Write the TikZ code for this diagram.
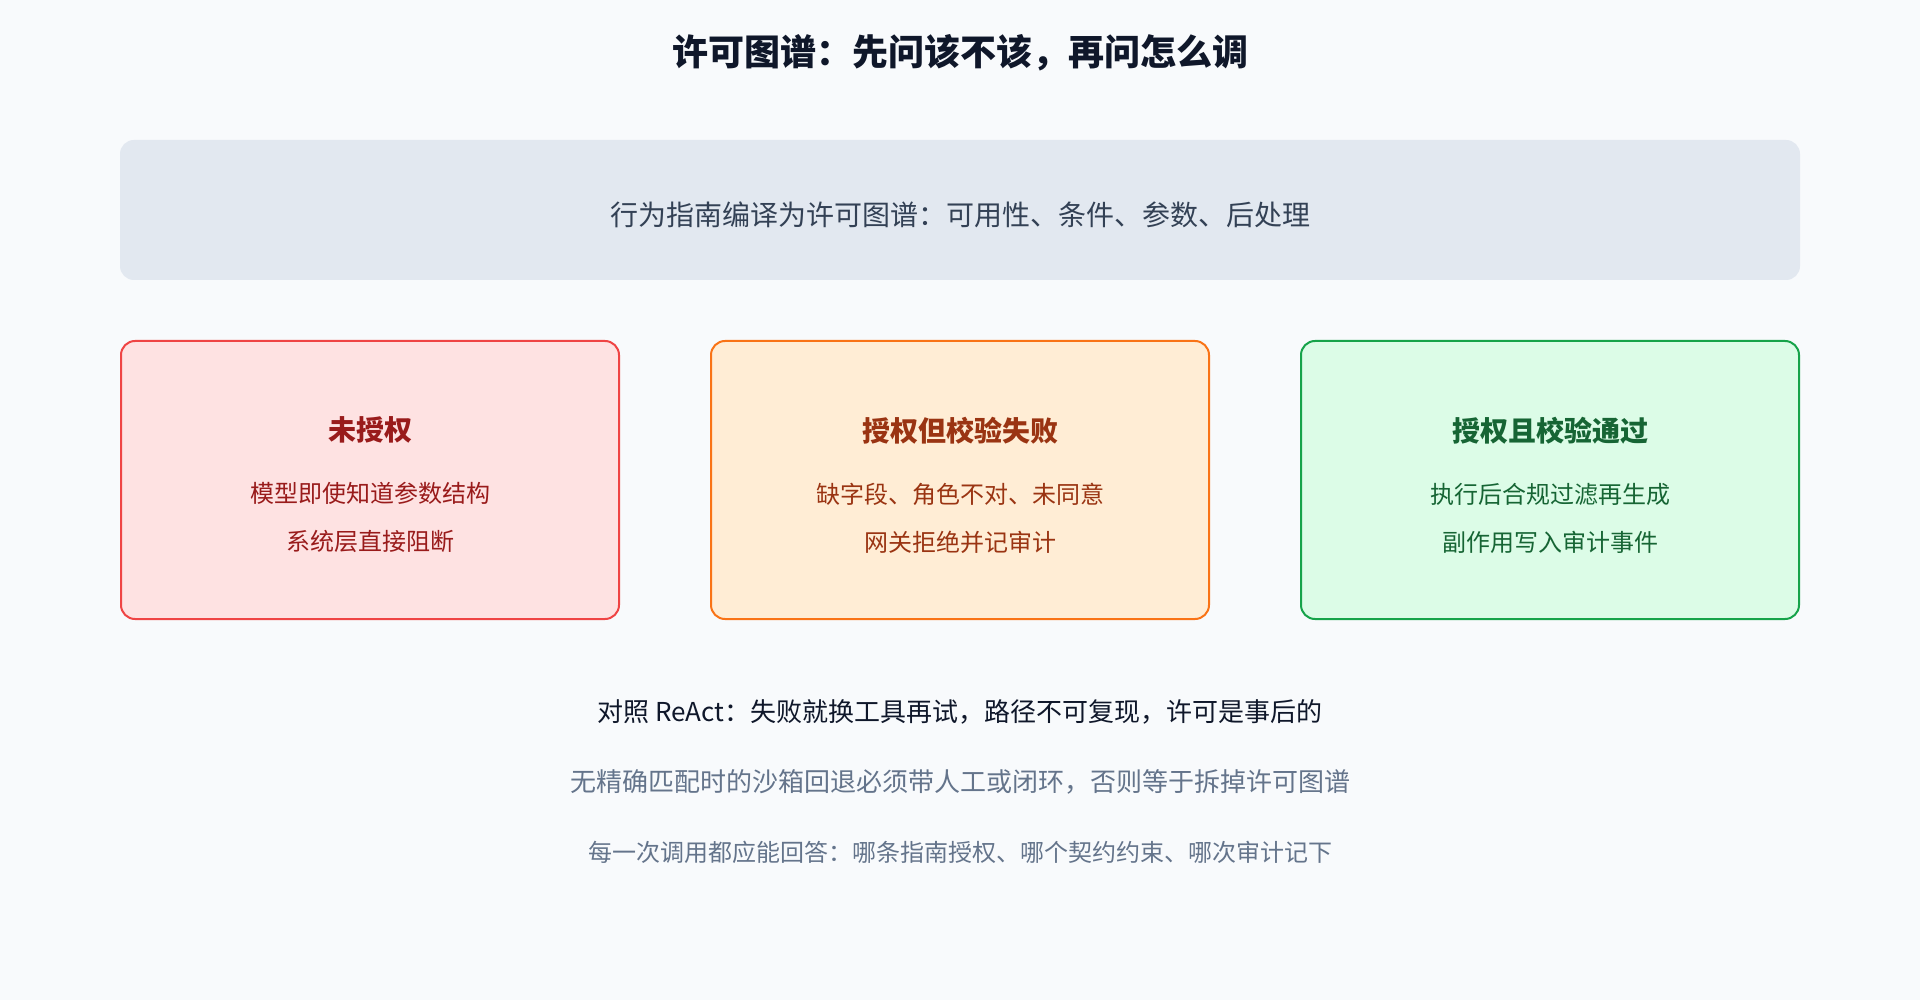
\documentclass[tikz,border=0pt]{standalone}
\usepackage{fontspec}
\setmainfont{Noto Sans CJK SC}
\usetikzlibrary{positioning}

\definecolor{pagebg}{HTML}{F8FAFC}
\definecolor{titletext}{HTML}{0F172A}
\definecolor{bannerfill}{HTML}{E2E8F0}
\definecolor{bannertext}{HTML}{334155}
\definecolor{redfill}{HTML}{FEE2E2}
\definecolor{redline}{HTML}{EF4444}
\definecolor{redtext}{HTML}{991B1B}
\definecolor{orangefill}{HTML}{FFEDD5}
\definecolor{orangeline}{HTML}{F97316}
\definecolor{orangetext}{HTML}{9A3412}
\definecolor{greenfill}{HTML}{DCFCE7}
\definecolor{greenline}{HTML}{16A34A}
\definecolor{greentext}{HTML}{166534}
\definecolor{notegray}{HTML}{64748B}

\begin{document}
\begin{tikzpicture}[x=1pt, y=-1pt, node distance=90pt,
 banner/.style = {fill=bannerfill, rounded corners=14pt, minimum width=1680pt,
                  minimum height=140pt},
  card/.style = {draw, line width=2pt, rounded corners=14pt, minimum width=498pt,
                 minimum height=278pt},
 rcard/.style = {card, draw=redline, fill=redfill},
 ocard/.style = {card, draw=orangeline, fill=orangefill},
 gcard/.style = {card, draw=greenline, fill=greenfill},
 ctext/.style = {align=center, font=\fontsize{24}{48}\selectfont},
  note/.style = {font=\fontsize{26}{32}\selectfont, text=notegray},
                        ]
    \fill[pagebg] (0,0) rectangle (1920,1000);
    \useasboundingbox (0,0) rectangle (1920,1000);

    \node [font=\fontsize{36}{42}\selectfont\bfseries, text=titletext]
                                        (title)   at (960,53) {许可图谱：先问该不该，再问怎么调};
    \node [banner]                      (guide)   at (960,210) {};
    \node [text=bannertext, font=\fontsize{28}{34}\selectfont]
                                        (guidetx) at ([yshift=-5pt]guide.center) {行为指南编译为许可图谱：可用性、条件、参数、后处理};

    \node [rcard]                       (deny)    at (370,480) {};
    \node [ocard, right=of deny]        (reject)  {};
    \node [gcard, right=of reject]      (allow)   {};

    \node [ctext, text=redtext]         (denytx)  at ([yshift=-5pt]deny.center)
          {{\fontsize{28}{48}\selectfont\bfseries 未授权}\\[14pt] 模型即使知道参数结构\\ 系统层直接阻断};
    \node [ctext, text=orangetext]      (rejecttx) at ([yshift=-5pt]reject.center)
          {{\fontsize{28}{48}\selectfont\bfseries 授权但校验失败}\\[14pt] 缺字段、角色不对、未同意\\ 网关拒绝并记审计};
    \node [ctext, text=greentext]       (allowtx) at ([yshift=-5pt]allow.center)
          {{\fontsize{28}{48}\selectfont\bfseries 授权且校验通过}\\[14pt] 执行后合规过滤再生成\\ 副作用写入审计事件};

    \node [note, text=titletext]        (react)   at (960,712) {对照 ReAct：失败就换工具再试，路径不可复现，许可是事后的};
    \node [note]                        (sandbox) at (960,782) {无精确匹配时的沙箱回退必须带人工或闭环，否则等于拆掉许可图谱};
    \node [note, font=\fontsize{24}{30}\selectfont]
                                        (audit)   at (960,852) {每一次调用都应能回答：哪条指南授权、哪个契约约束、哪次审计记下};
\end{tikzpicture}
\end{document}
